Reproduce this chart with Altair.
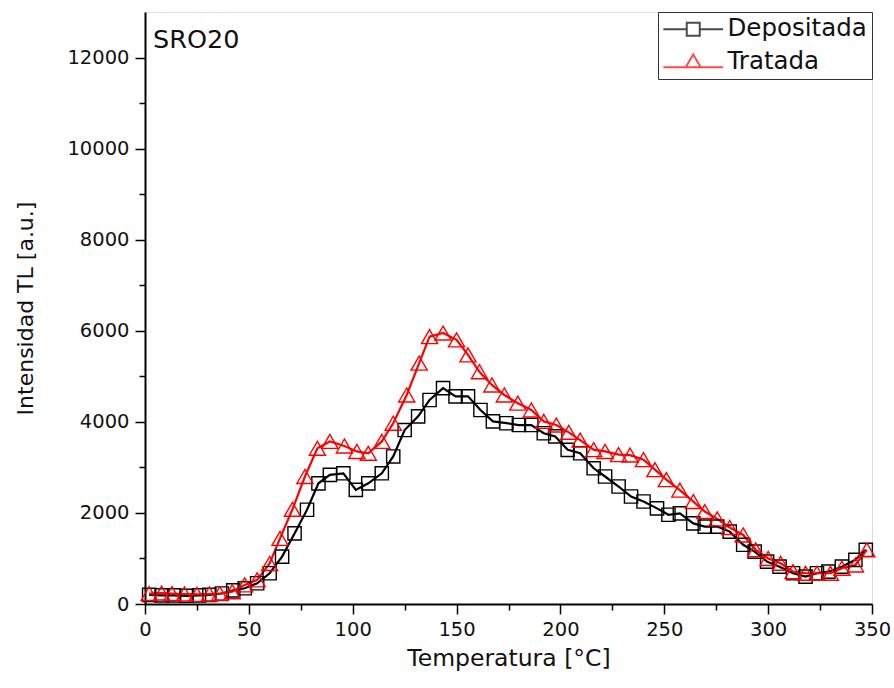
import altair as alt
import pandas as pd

series_names = ["Depositada", "Tratada"]
series_colors = ["#000000", "#ff0000"]
panel_label = ["SRO20"]

dep_t = [2, 8, 14, 20, 26, 31, 37, 42.5, 48, 54, 60, 66, 72, 78, 83.5, 89,
         95.5, 101.5, 107.5, 114, 119.5, 125, 131.5, 137, 143.5, 149.5, 155.5, 161.5, 167.5, 174, 180, 186,
         192, 197.5, 203.5, 209.5, 216, 221.5, 228, 234, 240, 246.5, 252, 257.5, 264, 269.5, 275.5, 281.5,
         288, 293.5, 299.5, 305.5, 312, 318, 323.5, 329, 335.5, 342, 347]
dep_v = [200, 190, 190, 180, 190, 200, 230, 300, 345, 455, 675, 1040, 1550, 2070, 2650, 2835,
         2870, 2505, 2650, 2870, 3240, 3820, 4120, 4480, 4740, 4560, 4560, 4260, 4010, 3970, 3930, 3930,
         3750, 3680, 3385, 3310, 2980, 2800, 2580, 2360, 2250, 2100, 1960, 1990, 1770, 1700, 1700, 1590,
         1300, 1150, 930, 820, 675, 600, 675, 710, 820, 970, 1190]

tra_t = [2, 8, 13, 19, 25, 31, 36, 42, 48, 54, 60, 65, 71, 77, 83, 89,
         96, 102, 107.5, 114, 119.5, 126, 132, 137, 143.5, 150, 155.5, 161, 167, 173, 179.5, 186,
         192, 198, 204, 209.5, 216, 221.5, 228, 233.5, 240, 245.5, 251, 257.5, 264, 269.5, 275.5, 281.5,
         288, 294, 300, 306, 312, 318, 323.5, 330, 335.5, 342, 347.5]
tra_v = [230, 240, 230, 220, 210, 220, 230, 270, 420, 530, 890, 1440, 2080, 2800, 3420, 3570,
         3470, 3350, 3310, 3570, 3970, 4590, 5290, 5870, 5950, 5800, 5470, 5100, 4810, 4590, 4410, 4260,
         4010, 3930, 3770, 3600, 3390, 3350, 3280, 3270, 3170, 2950, 2730, 2500, 2250, 2030, 1870, 1680,
         1516, 1190, 1000, 894, 710, 675, 675, 675, 785, 857, 1190]

x_major = [0, 50, 100, 150, 200, 250, 300, 350]
x_minor = [25, 75, 125, 175, 225, 275, 325]
y_major = [0, 2000, 4000, 6000, 8000, 10000, 12000]
y_minor = [1000, 3000, 5000, 7000, 9000, 11000]

df = pd.concat([
    pd.DataFrame({"T": dep_t, "I": dep_v, "serie": series_names[0], "ord": 0}),
    pd.DataFrame({"T": tra_t, "I": tra_v, "serie": series_names[1], "ord": 1}),
], ignore_index=True)

FONT = "DejaVu Sans"
xs = alt.Scale(domain=[0, 350], nice=False, zero=False)
ys = alt.Scale(domain=[0, 13000], nice=False)
cs = alt.Scale(domain=series_names, range=series_colors)

leg_paths = [
    "M-4.6,0H-1M1,0H4.6M-1,-1H1V1H-1Z",
    "M-4.6,0.75H-1.15M1.15,0.75H4.6M0,-1.2L1.15,0.75L-1.15,0.75Z",
]

axis_common = dict(grid=False, domainColor="#000", domainWidth=2, tickColor="#000",
                   tickWidth=1.5, labelFont=FONT, labelColor="#111", titleFont=FONT,
                   titleColor="#111", titleFontWeight="normal")

x_major_axis = alt.Axis(values=x_major, tickSize=10, labelFontSize=19.5, labelPadding=6,
                        labelFlush=False, title="Temperatura [°C]", titleFontSize=23.5,
                        titlePadding=8, orient="bottom", format="d", **axis_common)
y_major_axis = alt.Axis(values=y_major, tickSize=10, labelFontSize=19.5, labelPadding=6,
                        title="Intensidad TL [a.u.]", titleFontSize=22, titlePadding=29,
                        orient="left", format="d", **axis_common)
x_minor_axis = alt.Axis(values=x_minor, tickSize=6, labels=False, domain=False, title="",
                        orient="bottom", grid=False, tickColor="#000", tickWidth=1.5)
y_minor_axis = alt.Axis(values=y_minor, tickSize=6, labels=False, domain=False, title="",
                        orient="left", grid=False, tickColor="#000", tickWidth=1.5)

lines = alt.Chart(df).mark_line(strokeWidth=2.2).encode(
    x=alt.X("T:Q", scale=xs, axis=x_major_axis),
    y=alt.Y("I:Q", scale=ys, axis=y_major_axis),
    color=alt.Color("serie:N", scale=cs, legend=None),
    order=alt.Order("T:Q"),
    detail="serie:N",
)

points = alt.Chart(df).mark_point(filled=False, strokeWidth=1.4, opacity=1).encode(
    x=alt.X("T:Q", scale=xs, axis=x_minor_axis),
    y=alt.Y("I:Q", scale=ys, axis=y_minor_axis),
    color=alt.Color("serie:N", scale=cs, legend=None),
    shape=alt.Shape("serie:N", scale=alt.Scale(domain=series_names, range=["square", "triangle-up"]), legend=None),
    size=alt.Size("serie:N", scale=alt.Scale(domain=series_names, range=[175, 260]), legend=None),
    order=alt.Order("ord:Q"),
)

leg = dict(orient="top-right", offset=0, padding=5, strokeColor="#333333", fillColor="white",
           labelFont=FONT, labelFontSize=24.5, labelColor="#111", symbolSize=169,
           symbolStrokeWidth=2, symbolOffset=18, labelOffset=22, rowPadding=8,
           labelLimit=300, title=None)

legend_layer = alt.Chart(df).mark_point(filled=False, strokeWidth=2).encode(
    x=alt.X("T:Q", scale=xs, axis=None),
    y=alt.Y("I:Q", scale=ys, axis=None),
    color=alt.Color("serie:N", scale=cs, legend=alt.Legend(**leg)),
    shape=alt.Shape("serie:N", scale=alt.Scale(domain=series_names, range=leg_paths),
                    legend=alt.Legend(**leg)),
).transform_filter(alt.datum.T < -1000)

label_layer = alt.Chart(pd.DataFrame({"txt": panel_label})).mark_text(
    align="left", baseline="alphabetic", fontSize=25.5, font=FONT, color="#111"
).encode(x=alt.value(8), y=alt.value(36), text="txt:N")

chart = alt.layer(lines, points, legend_layer, label_layer).resolve_scale(
    color="independent", shape="independent"
).resolve_axis(x="independent", y="independent").properties(
    width=727, height=592,
    padding={"left": 145, "top": 12, "right": 22, "bottom": 84},
    autosize=alt.AutoSizeParams(type="none"),
).configure_view(stroke="#000", strokeWidth=1.5).configure(background="white")

chart.save("out.html", embed_options={"renderer": "svg", "actions": False})
